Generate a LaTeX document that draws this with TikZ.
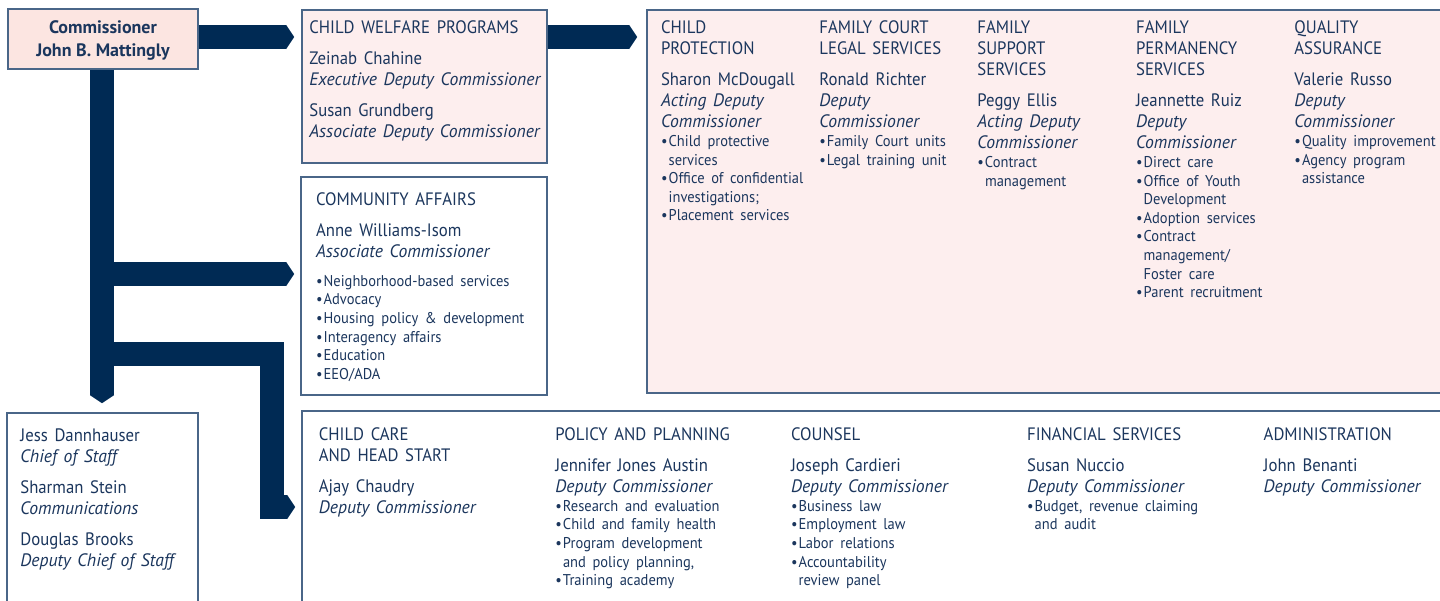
\documentclass[tikz,border=0pt]{standalone}
\usepackage{fontspec}
\setmainfont{PT Sans}[UprightFeatures={FakeStretch=0.93},ItalicFeatures={FakeStretch=0.98},BoldFeatures={FakeStretch=1.0}]
\usetikzlibrary{arrows.meta,fit}
\definecolor{navy}{HTML}{002A54}
\definecolor{txt}{HTML}{1B365D}
\definecolor{bord}{HTML}{4A6688}
\definecolor{pinkA}{HTML}{FCE5E1}
\definecolor{pinkB}{HTML}{FDEEEE}
\newlength\bulw \setlength\bulw{3.8pt}
\newcommand\mfnt{\fontsize{9}{10.5}\selectfont}
\newcommand\sfnt{\fontsize{7.8}{9.3}\selectfont}
\newcommand\lnm[1]{{\mfnt\noindent #1\par}}
\newcommand\lit[1]{{\mfnt\itshape\noindent #1\par}}
\newcommand\lbu[1]{{\sfnt\noindent\makebox[\bulw][l]{•}#1\par}}
\newcommand\lbc[1]{{\sfnt\noindent\hspace*{\bulw}#1\par}}
\newcommand\grpgap{\vspace{5pt}}
\tikzset{
  box/.style={draw=bord, line width=0.8pt, inner sep=0pt},
  col/.style={anchor=north west, inner sep=0pt, text width=150pt, align=left, text=txt,
    execute at begin node={\setlength\parskip{0pt}\setlength\parindent{0pt}}},
  bar/.style={draw=navy, line width=12pt, line join=miter,
    -{Triangle[length=4pt,width=12pt,line width=0pt]}},
}
\begin{document}
\begin{tikzpicture}[x=0.5pt,y=-0.5pt]
\useasboundingbox (0,0) rectangle (1440,600);
\clip (0,0) rectangle (1440,600);
% boxes
\node[box, fill=pinkA, fit={(8,9) (198,69)}] (comm) {};
\node[box, fill=pinkB, fit={(302,10) (547,163)}] (cwp) {};
\node[box, fill=pinkB, fit={(647,10) (1450,393)}] (big) {};
\node[box, fill=white, fit={(301,177) (547,395)}] (ca) {};
\node[box, fill=white, fit={(7,413) (198,620)}] (cos) {};
\node[box, fill=white, fit={(302,411) (1450,620)}] (cob) {};
% connector rows
\coordinate (r1) at (0,37);
\coordinate (trunk) at (102,0);
\coordinate (r2) at (0,274);
\coordinate (elb) at (271.5,354);
\coordinate (r3) at (0,507);
\draw[bar] (comm.east |- r1) -- ([xshift=-3.5pt]cwp.west |- r1);
\draw[bar] (cwp.east |- r1) -- ([xshift=-4.5pt]big.west |- r1);
\draw[bar] (comm.south -| trunk) -- ([yshift=4.5pt]cos.north -| trunk);
\draw[bar] (trunk |- r2) -- ([xshift=-3pt]ca.west |- r2);
\draw[bar] (trunk |- elb) -- (elb) -- (elb |- r3) -- ([xshift=-3pt]cob.west |- r3);
% commissioner
\node[anchor=north, inner sep=0pt, align=center, text=txt,
  font=\fontsize{9}{11.5}\selectfont\bfseries] (commt) at (103,20) {Commissioner\\John B. Mattingly};
% child welfare programs
\node[col] (cwpt) at (309,20.7) {%
\lnm{CHILD WELFARE PROGRAMS}\grpgap
\lnm{Zeinab Chahine}
\lit{Executive Deputy Commissioner}\grpgap
\lnm{Susan Grundberg}
\lit{Associate Deputy Commissioner}};
% big box columns
\node[col] (cp) at (660.7,20.7) {%
\lnm{CHILD}\lnm{PROTECTION}\grpgap
\lnm{Sharon McDougall}
\lit{Acting Deputy}\lit{Commissioner}
\lbu{Child protective}\lbc{services}
\lbu{Office of confidential}\lbc{investigations;}
\lbu{Placement services}};
\node[col] (fc) at (819,20.7) {%
\lnm{FAMILY COURT}\lnm{LEGAL SERVICES}\grpgap
\lnm{Ronald Richter}
\lit{Deputy}\lit{Commissioner}
\lbu{Family Court units}
\lbu{Legal training unit}};
\node[col] (fs) at (977,20.7) {%
\lnm{FAMILY}\lnm{SUPPORT}\lnm{SERVICES}\grpgap
\lnm{Peggy Ellis}
\lit{Acting Deputy}\lit{Commissioner}
\lbu{Contract}\lbc{management}};
\node[col] (fp) at (1135.7,20.7) {%
\lnm{FAMILY}\lnm{PERMANENCY}\lnm{SERVICES}\grpgap
\lnm{Jeannette Ruiz}
\lit{Deputy}\lit{Commissioner}
\lbu{Direct care}
\lbu{Office of Youth}\lbc{Development}
\lbu{Adoption services}
\lbu{Contract}\lbc{management/}\lbc{Foster care}
\lbu{Parent recruitment}};
\node[col] (qa) at (1294,20.7) {%
\lnm{QUALITY}\lnm{ASSURANCE}\grpgap
\lnm{Valerie Russo}
\lit{Deputy}\lit{Commissioner}
\lbu{Quality improvement}
\lbu{Agency program}\lbc{assistance}};
% community affairs
\node[col] (cat) at (315.7,192.7) {%
\lnm{COMMUNITY AFFAIRS}\grpgap
\lnm{Anne Williams-Isom}
\lit{Associate Commissioner}\vspace{4.9pt}
\lbu{Neighborhood-based services}
\lbu{Advocacy}
\lbu{Housing policy \& development}
\lbu{Interagency affairs}
\lbu{Education}
\lbu{EEO/ADA}};
% chief of staff
\node[col] (cost) at (20,428) {%
\lnm{Jess Dannhauser}
\lit{Chief of Staff}\grpgap
\lnm{Sharman Stein}
\lit{Communications}\grpgap
\lnm{Douglas Brooks}
\lit{Deputy Chief of Staff}};
% bottom row
\node[col] (cc) at (318.5,427.5) {%
\lnm{CHILD CARE}\lnm{AND HEAD START}\grpgap
\lnm{Ajay Chaudry}
\lit{Deputy Commissioner}};
\node[col] (pp) at (555,427.5) {%
\lnm{POLICY AND PLANNING}\grpgap
\lnm{Jennifer Jones Austin}
\lit{Deputy Commissioner}
\lbu{Research and evaluation}
\lbu{Child and family health}
\lbu{Program development}\lbc{and policy planning,}
\lbu{Training academy}};
\node[col] (cn) at (790.7,427.5) {%
\lnm{COUNSEL}\grpgap
\lnm{Joseph Cardieri}
\lit{Deputy Commissioner}
\lbu{Business law}
\lbu{Employment law}
\lbu{Labor relations}
\lbu{Accountability}\lbc{review panel}};
\node[col] (fn) at (1026.7,427.5) {%
\lnm{FINANCIAL SERVICES}\grpgap
\lnm{Susan Nuccio}
\lit{Deputy Commissioner}
\lbu{Budget, revenue claiming}\lbc{and audit}};
\node[col] (ad) at (1263.3,427.5) {%
\lnm{ADMINISTRATION}\grpgap
\lnm{John Benanti}
\lit{Deputy Commissioner}};
\end{tikzpicture}
\end{document}
